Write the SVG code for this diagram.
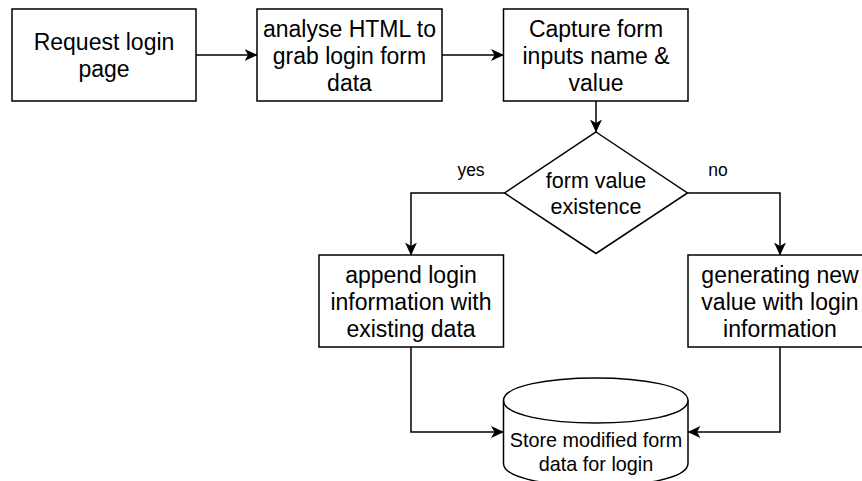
<svg xmlns="http://www.w3.org/2000/svg" width="862" height="481" viewBox="0 0 862 481">
  <defs>
    <marker id="arrow" markerUnits="userSpaceOnUse" markerWidth="13" markerHeight="13" viewBox="0 0 13 13" refX="12.5" refY="6.5" orient="auto">
      <path d="M0,0.5 L13,6.5 L0,12.5 L3.5,6.5 z" fill="#000"/>
    </marker>
    <style>
      .box { fill: #fff; stroke: #000; stroke-width: 1.5; }
      .edge { fill: none; stroke: #000; stroke-width: 1.5; marker-end: url(#arrow); }
      .t { font-family: "Liberation Sans", Arial, sans-serif; font-size: 23px; fill: #000; text-anchor: middle; }
      .td { font-family: "Liberation Sans", Arial, sans-serif; font-size: 21.5px; fill: #000; text-anchor: middle; }
      .tc { font-family: "Liberation Sans", Arial, sans-serif; font-size: 19.8px; fill: #000; text-anchor: middle; }
      .lbl { font-family: "Liberation Sans", Arial, sans-serif; font-size: 17.5px; fill: #000; text-anchor: middle; }
    </style>
  </defs>
  <rect width="862" height="481" fill="#fff"/>

  <!-- connectors -->
  <g id="connectors">
    <path class="edge" d="M196,55 L257,55"/>
    <path class="edge" d="M442,55 L503.5,55"/>
    <path class="edge" d="M596,101 L596,132"/>
    <path class="edge" d="M504.5,193 L411,193 L411,255"/>
    <path class="edge" d="M687.5,193 L780,193 L780,255"/>
    <path class="edge" d="M411,347 L411,432 L503.5,432"/>
    <path class="edge" d="M780,347 L780,432 L688,432"/>
    <text class="lbl" x="471" y="176">yes</text>
    <text class="lbl" x="718" y="176">no</text>
  </g>

  <!-- nodes -->
  <g id="request-login">
    <rect class="box" x="12" y="9" width="184" height="92"/>
    <text class="t" x="104" y="50">Request login</text>
    <text class="t" x="104" y="77">page</text>
  </g>

  <g id="analyse-html">
    <rect class="box" x="257" y="9" width="185" height="92"/>
    <text class="t" x="349.5" y="36.5">analyse HTML to</text>
    <text class="t" x="349.5" y="63.5">grab login form</text>
    <text class="t" x="349.5" y="90.5">data</text>
  </g>

  <g id="capture-inputs">
    <rect class="box" x="503.5" y="9" width="184.5" height="92"/>
    <text class="t" x="596" y="36.5">Capture form</text>
    <text class="t" x="596" y="63.5">inputs name &amp;</text>
    <text class="t" x="596" y="90.5">value</text>
  </g>

  <g id="value-existence">
    <polygon class="box" points="596,132 687.5,193 596,253.5 504.5,193"/>
    <text class="td" x="596" y="187.5">form value</text>
    <text class="td" x="596" y="214">existence</text>
  </g>

  <g id="append-login">
    <rect class="box" x="319" y="255" width="184.5" height="92"/>
    <text class="t" x="411" y="282.5">append login</text>
    <text class="t" x="411" y="309.5">information with</text>
    <text class="t" x="411" y="336.5">existing data</text>
  </g>

  <g id="generate-value">
    <rect class="box" x="688" y="255" width="184" height="92"/>
    <text class="t" x="780" y="283">generating new</text>
    <text class="t" x="780" y="310">value with login</text>
    <text class="t" x="780" y="337">information</text>
  </g>

  <g id="store-data">
    <path class="box" d="M503.5,400.5 C503.5,370.5 688,370.5 688,400.5 L688,463.5 C688,493.5 503.5,493.5 503.5,463.5 Z"/>
    <path class="box" style="fill:none" d="M503.5,400.5 C503.5,430.5 688,430.5 688,400.5"/>
    <text class="tc" x="596" y="447">Store modified form</text>
    <text class="tc" x="596" y="471">data for login</text>
  </g>
</svg>
